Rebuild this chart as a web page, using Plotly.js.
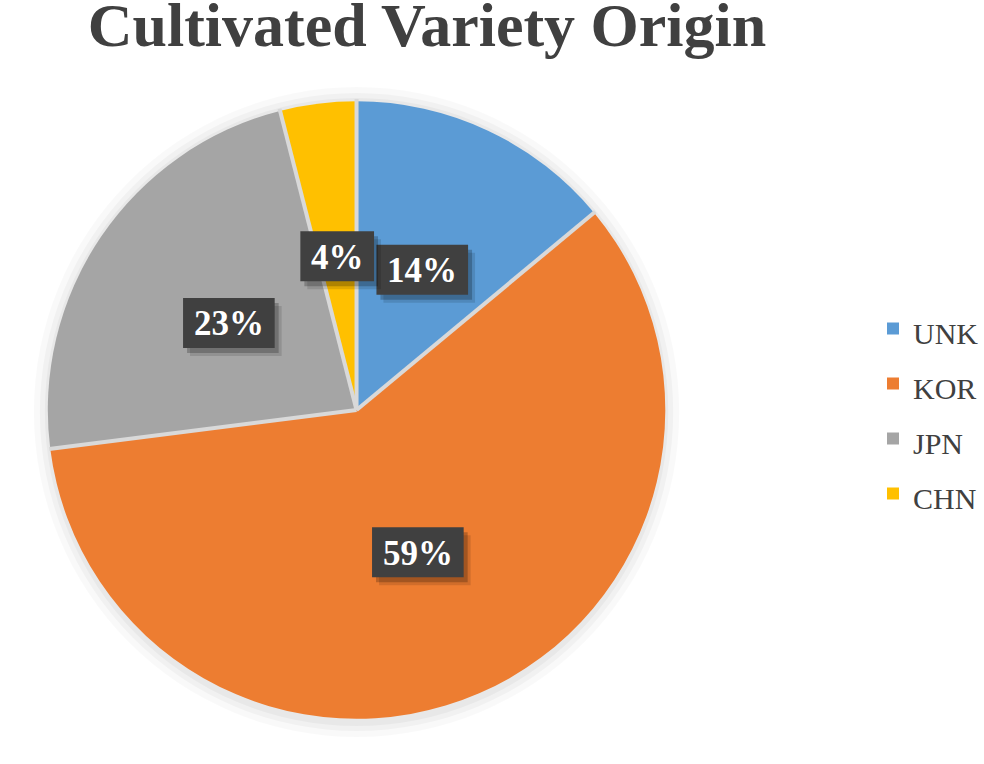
<!DOCTYPE html>
<html>
<head>
<meta charset="utf-8">
<script src="https://cdn.plot.ly/plotly-3.0.1.min.js"></script>
<style>html,body{margin:0;padding:0;background:#fff;}#chart{width:984px;height:764px;}</style>
</head>
<body>
<div id="chart"></div>
<script>
const categories = ["UNK", "KOR", "JPN", "CHN"];
const values = [14, 59, 23, 4];
const colors = ["#5b9bd5", "#ed7d31", "#a5a5a5", "#ffc000"];

const W = 984, H = 764;
const cx = 358, cy = 410, R = 310;
const dom = {x: [(cx - R) / W, (cx + R) / W], y: [1 - (cy + R) / H, 1 - (cy - R) / H]};
const px2x = p => p / W;
const px2y = p => 1 - p / H;

const total = values.reduce((a, b) => a + b, 0);
const annotations = [];
const shapes = [];

// soft shadow behind the pie
[[14, 0.025], [8, 0.03], [3, 0.035]].forEach(([e, a]) => {
  shapes.push({
    type: "circle", xref: "paper", yref: "paper", layer: "below",
    x0: px2x(cx - R - e), x1: px2x(cx + R + e),
    y0: px2y(cy + R + e + 3), y1: px2y(cy - R - e + 1),
    fillcolor: "rgba(0,0,0," + a + ")", line: {width: 0}
  });
});

let cum = 0;
const boxes = [];
values.forEach((v, i) => {
  const start = cum / total * 2 * Math.PI;
  const mid = (cum + v / 2) / total * 2 * Math.PI;
  cum += v;
  // slice separator
  shapes.push({
    type: "line", xref: "paper", yref: "paper", layer: "above",
    x0: px2x(cx), y0: px2y(cy),
    x1: px2x(cx + (R + 1) * Math.sin(start)), y1: px2y(cy - (R + 1) * Math.cos(start)),
    line: {color: "#d9d9d9", width: 4}
  });
  const r = 0.5 * R;
  const bx = cx + r * Math.sin(mid);
  const by = cy - r * Math.cos(mid);
  const label = Math.round(v / total * 100) + "%";
  const bw = 56 + 18 * (label.length - 1);
  const bh = 50;
  boxes.push({bx, by, bw, bh, label});
});
boxes.forEach(({bx, by, bw, bh}) => {
  [[7, 8, 0.12], [4, 5, 0.22]].forEach(([dx, dy, a]) => {
    shapes.push({
      type: "rect", xref: "paper", yref: "paper", layer: "above",
      x0: px2x(bx - bw / 2 + dx), x1: px2x(bx + bw / 2 + dx),
      y0: px2y(by + bh / 2 + dy), y1: px2y(by - bh / 2 + dy),
      fillcolor: "rgba(0,0,0," + a + ")", line: {width: 0}
    });
  });
  shapes.push({
    type: "rect", xref: "paper", yref: "paper", layer: "above",
    x0: px2x(bx - bw / 2), x1: px2x(bx + bw / 2),
    y0: px2y(by + bh / 2), y1: px2y(by - bh / 2),
    fillcolor: "#404040", line: {width: 0}
  });
});
boxes.forEach(({bx, by, label}) => {
  annotations.push({
    xref: "paper", yref: "paper", x: px2x(bx), y: px2y(by + 1),
    xanchor: "center", yanchor: "middle",
    text: "<b>" + label + "</b>", showarrow: false,
    font: {family: "Liberation Serif", size: 35, color: "#ffffff"}
  });
});

const legendLabels = categories.map(c => '<span style="font-size:30px">' + c + '</span>');

const data = [{
  type: "pie",
  labels: legendLabels,
  values: values,
  sort: false,
  direction: "clockwise",
  rotation: 0,
  textinfo: "none",
  hoverinfo: "label+percent",
  marker: {colors: colors, line: {width: 0}},
  domain: dom
}];

const layout = {
  width: W, height: H,
  margin: {l: 0, r: 0, t: 0, b: 0},
  paper_bgcolor: "#ffffff",
  title: {
    text: "<b>Cultivated Variety Origin</b>",
    font: {family: "Liberation Serif", size: 62, color: "#404040"},
    x: 427 / W, xanchor: "center", y: 1 - 3 / H, yanchor: "top"
  },
  showlegend: true,
  legend: {
    x: 877 / W, xanchor: "left", y: px2y(411), yanchor: "middle",
    font: {family: "Liberation Serif", size: 40, color: "#404040"},
    traceorder: "normal", itemclick: false
  },
  shapes: shapes,
  annotations: annotations
};

Plotly.newPlot("chart", data, layout, {displayModeBar: false});
</script>
</body>
</html>
